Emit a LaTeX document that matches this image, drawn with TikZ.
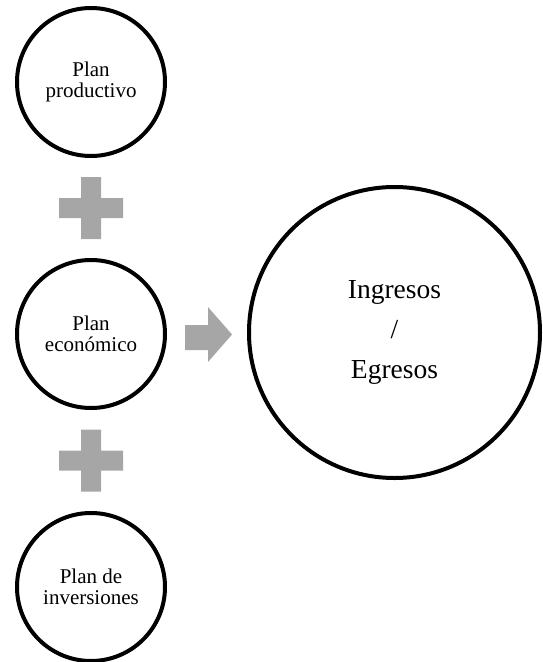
\documentclass[tikz,border=0pt]{standalone}
\usepackage{fontspec}
\setmainfont{Liberation Serif}
\usetikzlibrary{calc}
\definecolor{plusgray}{RGB}{166,166,166}
\begin{document}
\begin{tikzpicture}[x=1pt, y=-1pt, line join=round,
	plan/.style={circle, draw, line width=4pt, minimum size=148pt, inner sep=0pt, align=center, font=\fontsize{21}{20.5}\selectfont},
	result/.style={circle, draw, line width=4pt, minimum size=291pt, inner sep=0pt, align=center, font=\fontsize{27.5}{40}\selectfont}]
	\useasboundingbox (0,0) rectangle (543,662);
	\node[plan] (prod) at (91,82) {Plan\\productivo};
	\node[plan] (econ) at (91,334) {Plan\\económico};
	\node[plan] (inv) at (91,587) {Plan de\\inversiones};
	\node[result] (io) at (394.5,332.5) {Ingresos\\/\\Egresos};
	% plus signs between the plans
	\foreach \a/\b in {prod/econ, econ/inv}
	\fill[plusgray] ($(\a)!0.5!(\b)$) ++(-10,-31) rectangle ++(20,62)
		($(\a)!0.5!(\b)$) ++(-32,-10) rectangle ++(64,20);
	% block arrow
	\fill[plusgray] (185,325) -- (208,325) -- (208,307) -- (232,334.5) -- (208,362) -- (208,350) -- (185,350) -- cycle;
\end{tikzpicture}
\end{document}
